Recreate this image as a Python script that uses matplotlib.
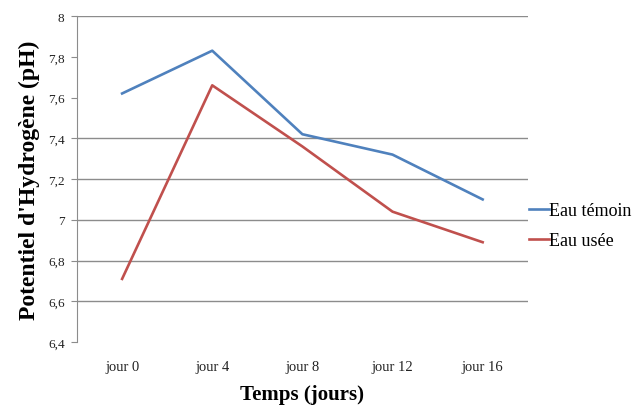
import numpy as np
import matplotlib
matplotlib.use("Agg")
import matplotlib.pyplot as plt

# donnees
jours = ["jour 0", "jour 4", "jour 8", "jour 12", "jour 16"]
eau_temoin = [7.62, 7.83, 7.42, 7.32, 7.10]
eau_usee = [6.71, 7.66, 7.36, 7.04, 6.89]
yticks = [6.4, 6.6, 6.8, 7.0, 7.2, 7.4, 7.6, 7.8, 8.0]
ylabels = ["6,4", "6,6", "6,8", "7", "7,2", "7,4", "7,6", "7,8", "8"]
grille = [6.6, 6.8, 7.0, 7.2, 7.4, 8.0]

plt.rcParams["font.family"] = ["Liberation Serif", "DejaVu Serif"]

fig = plt.figure(figsize=(6.42, 4.06), dpi=100)
ax = fig.add_axes([0.12, 0.155, 0.702, 0.803])

x = np.arange(len(jours))
for g in grille:
    ax.axhline(g, color="#8c8c8c", lw=1.0, zorder=0)

ax.plot(x, eau_temoin, color="#4F81BD", lw=1.9, label="Eau témoin")
ax.plot(x, eau_usee, color="#C0504D", lw=1.9, label="Eau usée")

ax.set_xlim(-0.5, len(jours) - 0.5)
ax.set_ylim(6.4, 8.0)
ax.set_xticks(x)
ax.set_xticklabels(jours, fontsize=10.5, color="#222222")
ax.set_yticks(yticks)
ax.set_yticklabels(ylabels, fontsize=9.5, color="#222222")
ax.tick_params(axis="x", length=0, pad=13)
ax.tick_params(axis="y", length=4, color="#8c8c8c", pad=5)

for s in ["top", "right", "bottom"]:
    ax.spines[s].set_visible(False)
ax.spines["left"].set_color("#8c8c8c")

ax.set_xlabel("Temps (jours)", fontsize=15, fontweight="bold", labelpad=8)
ax.set_ylabel("Potentiel d'Hydrogène (pH)", fontsize=17, fontweight="bold", labelpad=6)

ax.legend(loc="center left", bbox_to_anchor=(0.982, 0.357), frameon=False,
          borderpad=0, handlelength=1.1, handletextpad=0.05, labelspacing=0.7,
          fontsize=13)

plt.savefig("out.png", dpi=100)
